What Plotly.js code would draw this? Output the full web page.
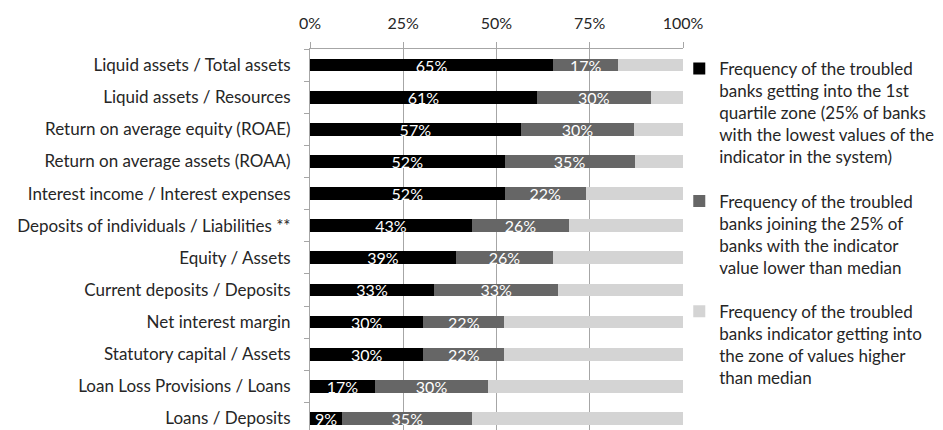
<!DOCTYPE html>
<html>
<head>
<meta charset="utf-8">
<script src="https://cdn.plot.ly/plotly-3.0.1.min.js"></script>
<style>html,body{margin:0;padding:0;background:#fff;}#chart{width:943px;height:430px;}</style>
</head>
<body>
<div id="chart"></div>
<script>
var categories = [
  "Liquid assets / Total assets",
  "Liquid assets / Resources",
  "Return on average equity (ROAE)",
  "Return on average assets (ROAA)",
  "Interest income / Interest expenses",
  "Deposits of individuals / Liabilities **",
  "Equity / Assets",
  "Current deposits / Deposits",
  "Net interest margin",
  "Statutory capital / Assets",
  "Loan Loss Provisions / Loans",
  "Loans / Deposits"
];
var firstQuartile = [65.2, 60.9, 56.5, 52.2, 52.2, 43.4, 39.1, 33.3, 30.4, 30.4, 17.4, 8.7];
var belowMedian   = [17.4, 30.4, 30.4, 34.8, 21.7, 26.1, 26.1, 33.3, 21.7, 21.7, 30.4, 34.8];
var aboveMedian   = [17.4, 8.7, 13.1, 13.0, 26.1, 30.5, 34.8, 33.4, 47.9, 47.9, 52.2, 56.5];
var seriesNames = [
  "Frequency of the troubled<br>banks getting into the 1st<br>quartile zone (25% of banks<br>with the lowest values of the<br>indicator in the system)",
  "Frequency of the troubled<br>banks joining the 25% of<br>banks with the indicator<br>value lower than median",
  "Frequency of the troubled<br>banks indicator getting into<br>the zone of values higher<br>than median"
];
var xTicks = [0, 25, 50, 75, 100];
var FONT = "Lato, 'Open Sans', sans-serif";

function barTrace(vals, name, color, showText, group) {
  return {
    type: "bar", orientation: "h",
    x: vals, y: categories, name: name,
    legendgroup: group,
    marker: {color: color, line: {width: 0}},
    text: showText ? vals.map(function(v){ return Math.round(v) + "%"; }) : null,
    textposition: showText ? "inside" : "none",
    insidetextanchor: "middle",
    textangle: 0,
    constraintext: "none",
    textfont: {color: "#ffffff", size: 16, family: FONT},
    hoverinfo: "x+y"
  };
}

var data = [
  barTrace(firstQuartile, seriesNames[0], "#000000", true, "g1"),
  barTrace(belowMedian, seriesNames[1], "#666666", true, "g2"),
  barTrace(aboveMedian, seriesNames[2], "#d4d4d4", false, "g3")
];

var layout = {
  width: 943, height: 430,
  margin: {l: 310, r: 260, t: 49, b: 0, pad: 0},
  paper_bgcolor: "#ffffff", plot_bgcolor: "#ffffff",
  barmode: "stack", bargap: 0.6,
  font: {family: FONT, size: 16, color: "#262626"},
  xaxis: {
    side: "top", range: [0, 100],
    tickmode: "array", tickvals: xTicks, ticktext: xTicks.map(function(t){return t + "%";}),
    showgrid: true, gridcolor: "#a6a6a6", gridwidth: 1,
    zeroline: false,
    showline: true, linecolor: "#a6a6a6", linewidth: 1,
    ticks: "outside", ticklen: 6, tickcolor: "#a6a6a6",
    ticklabelstandoff: 7,
    tickfont: {size: 16, family: FONT, color: "#262626"},
    fixedrange: true
  },
  yaxis: {
    type: "category", range: [11.36, -0.5],
    showgrid: false, zeroline: false,
    showline: true, linecolor: "#a6a6a6", linewidth: 1,
    ticks: "outside", ticklen: 5, tickcolor: "#a6a6a6", tickson: "boundaries",
    ticklabelstandoff: 15,
    tickfont: {size: 17, family: FONT, color: "#262626"},
    fixedrange: true
  },
  legend: {
    x: 0.99, xanchor: "left", y: 0.995, yanchor: "top",
    traceorder: "grouped", tracegroupgap: 19, valign: "top",
    font: {size: 17, family: FONT, color: "#262626"},
    bgcolor: "rgba(0,0,0,0)"
  },
  showlegend: true
};

Plotly.newPlot("chart", data, layout, {displayModeBar: false, staticPlot: true});
</script>
</body>
</html>
